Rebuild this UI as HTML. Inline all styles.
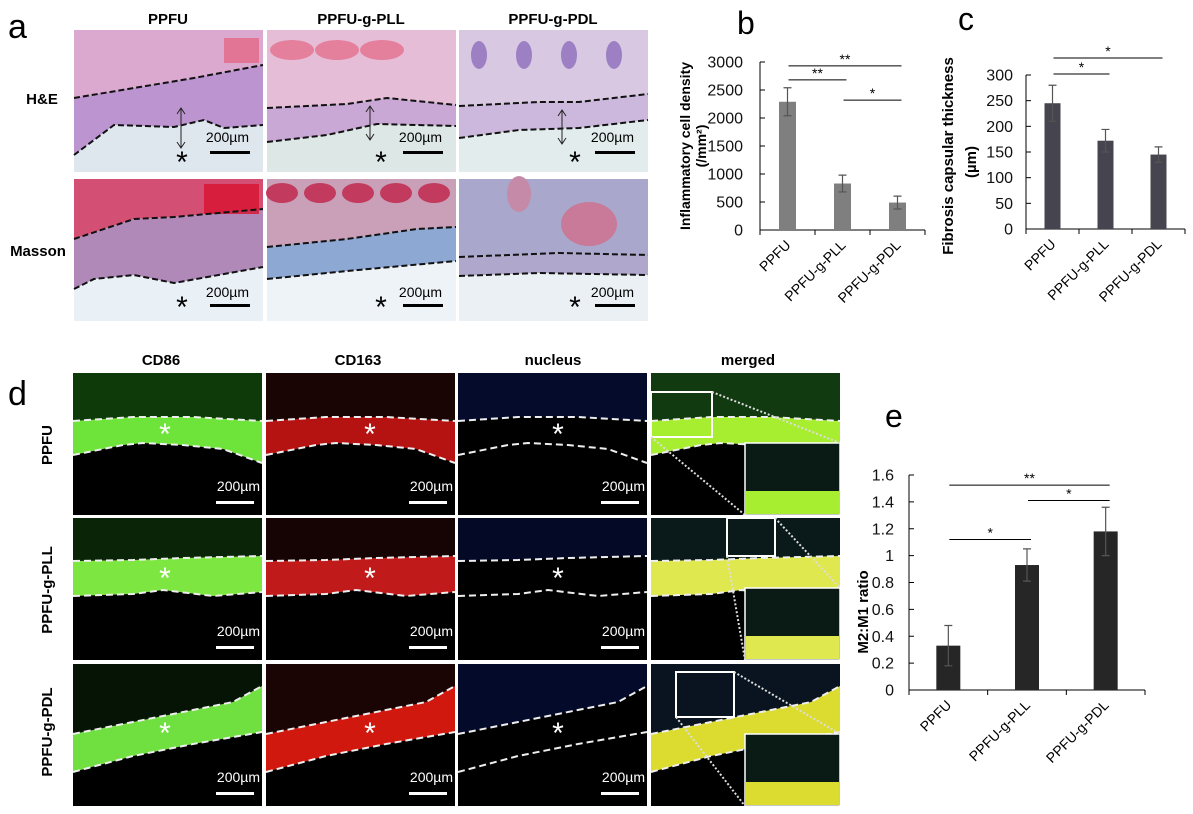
<!DOCTYPE html>
<html><head><meta charset="utf-8">
<style>
html,body{margin:0;padding:0;background:#fff;}
body{width:1193px;height:809px;overflow:hidden;font-family:"Liberation Sans",sans-serif;}
svg text{font-family:"Liberation Sans",sans-serif;}
</style></head>
<body>
<svg id="fig" width="1193" height="809" viewBox="0 0 1193 809" xmlns="http://www.w3.org/2000/svg">
<!-- panel letters -->
<text x="8" y="38" font-size="34">a</text>
<text x="737" y="34" font-size="32">b</text>
<text x="958" y="30" font-size="32">c</text>
<text x="8" y="405" font-size="34">d</text>
<text x="885" y="427" font-size="32">e</text>
<!-- panel a headers -->
<g font-weight="bold" font-size="15" text-anchor="middle">
<text x="168" y="24">PPFU</text>
<text x="361" y="24">PPFU-g-PLL</text>
<text x="553" y="24">PPFU-g-PDL</text>
<text x="42" y="104">H&amp;E</text>
<text x="38" y="256">Masson</text>
</g>
<!-- panel d headers -->
<g font-weight="bold" font-size="15" text-anchor="middle">
<text x="161" y="365">CD86</text>
<text x="358" y="365">CD163</text>
<text x="553" y="365">nucleus</text>
<text x="748" y="365">merged</text>
<text transform="translate(52,445) rotate(-90)">PPFU</text>
<text transform="translate(52,590) rotate(-90)">PPFU-g-PLL</text>
<text transform="translate(52,732) rotate(-90)">PPFU-g-PDL</text>
</g>
<g id="histo"></g>
<g id="fluo"></g>
<g id="chartB"></g>
<g id="chartC"></g>
<g id="chartE"></g>
</svg>
<script>
// ---- chart data ----
const cats = ["PPFU","PPFU-g-PLL","PPFU-g-PDL"];
const bVals = [2290, 830, 490];
const bErr = [250, 150, 115];
const bTicks = [0,500,1000,1500,2000,2500,3000];
const bSigFrom = [0, 0, 1];
const bSigTo = [2, 1, 2];
const bSigY = [2930, 2680, 2320];
const bSigLabel = ["**","**","*"];
const cVals = [245, 172, 145];
const cErr = [35, 22, 15];
const cTicks = [0,50,100,150,200,250,300];
const cSigFrom = [0, 0];
const cSigTo = [2, 1];
const cSigY = [333, 302];
const cSigLabel = ["*","*"];
const eVals = [0.33, 0.93, 1.18];
const eErr = [0.15, 0.12, 0.18];
const eTicks = [0,0.2,0.4,0.6,0.8,1,1.2,1.4,1.6];
const eSigFrom = [0, 1, 0];
const eSigTo = [2, 2, 1];
const eSigY = [1.525, 1.41, 1.12];
const eSigLabel = ["**","*","*"];

const NS = "http://www.w3.org/2000/svg";
function mk(tag, attrs, parent){
  const el = document.createElementNS(NS, tag);
  for (const k in attrs) el.setAttribute(k, attrs[k]);
  parent.appendChild(el);
  return el;
}

function drawChart(g, o){
  const n = cats.length;
  const step = (o.x1 - o.x0)/n;
  const xc = i => o.x0 + step*(i+0.5);
  const ys = v => o.y0 - (v/o.max)*(o.y0 - o.yTop);
  const ya = mk("line",{x1:o.x0,y1:ys(o.max),x2:o.x0,y2:o.y0,stroke:"#000","stroke-width":1},g);
  
  
  const xa = mk("line",{x1:o.x0,y1:o.y0,x2:o.x1,y2:o.y0,stroke:"#000","stroke-width":1},g);
  
  
  for (let i=0;i<=n;i++){
    const tx = mk("line",{x1:o.x0+step*i,y1:o.y0,x2:o.x0+step*i,y2:o.y0+5,stroke:"#000"},g);
    
    
  }
  o.ticks.forEach(t=>{
    const tl = mk("line",{x1:o.x0,y1:ys(t),x2:o.x0+5,y2:ys(t),stroke:"#000"},g);
    
    
    const tt = mk("text",{x:o.x0-o.gap,y:ys(t)+5.5,"text-anchor":"end","font-size":o.fs,fill:"#111"},g);
    tt.textContent = String(t);
    
    
  });
  o.vals.forEach((v,i)=>{
    const b = mk("rect",{x:xc(i)-o.bw/2,y:ys(v),width:o.bw,height:o.y0-ys(v),fill:o.color},g);
    
    
    const e = o.err[i];
    const eg = mk("path",{d:`M${xc(i)},${ys(v+e)}V${ys(v-e)}M${xc(i)-4},${ys(v+e)}h8M${xc(i)-4},${ys(v-e)}h8`,stroke:"#555",fill:"none","stroke-width":1.2},g);
    
    
    const lx = xc(i)+4, ly = o.y0+16;
    const lab = mk("text",{x:lx,y:ly,"text-anchor":"end","font-size":14,transform:`rotate(-45 ${lx} ${ly})`},g);
    lab.textContent = cats[i];
    
    
  });
  o.sigFrom.forEach((f,k)=>{
    const xa2 = xc(f)+1, xb = xc(o.sigTo[k])+4, y = ys(o.sigY[k]);
    const l = mk("line",{x1:xa2,y1:y,x2:xb,y2:y,stroke:"#000","stroke-width":1},g);
    
    
    const t = mk("text",{x:(xa2+xb)/2,y:y-2,"text-anchor":"middle","font-size":14},g);
    t.textContent = o.sigLabel[k];
    
    
  });
}

drawChart(document.getElementById("chartB"),{x0:760,x1:925,y0:230,yTop:62,max:3000,ticks:bTicks,vals:bVals,err:bErr,bw:17,color:"#7f7f7f",fs:16,gap:17,sigFrom:bSigFrom,sigTo:bSigTo,sigY:bSigY,sigLabel:bSigLabel});
drawChart(document.getElementById("chartC"),{x0:1026,x1:1185,y0:229,yTop:75,max:300,ticks:cTicks,vals:cVals,err:cErr,bw:16,color:"#45444f",fs:16,gap:13,sigFrom:cSigFrom,sigTo:cSigTo,sigY:cSigY,sigLabel:cSigLabel});
drawChart(document.getElementById("chartE"),{x0:909,x1:1145,y0:690,yTop:475,max:1.6,ticks:eTicks,vals:eVals,err:eErr,bw:24,color:"#262626",fs:16,gap:15,sigFrom:eSigFrom,sigTo:eSigTo,sigY:eSigY,sigLabel:eSigLabel});

(function(){
  const svg = document.getElementById("fig");
  const t1 = mk("text",{transform:"translate(690,146) rotate(-90)","text-anchor":"middle","font-size":14,"font-weight":"bold"},svg);
  t1.textContent = "Inflammatory cell density";
  
  
  const t2 = mk("text",{transform:"translate(706,146) rotate(-90)","text-anchor":"middle","font-size":14,"font-weight":"bold"},svg);
  t2.textContent = "(/mm²)";
  
  
  const t3 = mk("text",{transform:"translate(953,156) rotate(-90)","text-anchor":"middle","font-size":15,"font-weight":"bold"},svg);
  t3.textContent = "Fibrosis capsular thickness";
  
  
  const t4 = mk("text",{transform:"translate(976,162) rotate(-90)","text-anchor":"middle","font-size":15,"font-weight":"bold"},svg);
  t4.textContent = "(µm)";
  
  
  const t5 = mk("text",{transform:"translate(868,612) rotate(-90)","text-anchor":"middle","font-size":15,"font-weight":"bold"},svg);
  t5.textContent = "M2:M1 ratio";
  
  
})();

function pathPts(pts,ox,oy){return pts.map((p,i)=>(i?"L":"M")+(ox+p[0])+","+(oy+p[1])).join("");}
const histo = document.getElementById("histo");
const aCols=[74,267,459], aRows=[30,179], aW=189, aH=142;
const aCfg=[
 [{top:"#dba8cf",band:"#bc94d0",bot:"#dfe7ee",t:[[0,68],[60,58],[120,48],[189,35]],b:[[0,125],[40,95],[100,97],[130,90],[150,98],[189,95]]},
  {top:"#e6bdd6",band:"#c9a8d6",bot:"#dde8e6",t:[[0,78],[80,74],[120,68],[189,75]],b:[[0,112],[60,105],[110,94],[189,96]]},
  {top:"#d9c8e2",band:"#cbb8dc",bot:"#e2ecec",t:[[0,76],[80,72],[120,72],[189,64]],b:[[0,108],[60,100],[120,98],[189,90]]}],
 [{top:"#d34f74",band:"#b089b8",bot:"#eaf1f6",t:[[0,60],[60,40],[100,38],[189,30]],b:[[0,110],[20,100],[60,96],[100,104],[189,88]]},
  {top:"#c9a0b8",band:"#8ea8d4",bot:"#eef3f8",t:[[0,68],[80,60],[150,50],[189,48]],b:[[0,100],[80,92],[189,82]]},
  {top:"#a9a8cc",band:"#b0a8cc",bot:"#eaf0f4",t:[[0,78],[100,74],[189,76]],b:[[0,97],[80,94],[189,96]]}]
];
aRows.forEach((ry,r)=>aCols.forEach((cx,c)=>{
  const k=aCfg[r][c];
  const g=mk("g",{},histo);
  
  
  mk("rect",{x:cx,y:ry,width:aW,height:aH,fill:k.bot},g);
  mk("path",{d:`M${cx},${ry}H${cx+aW}`+pathPts(k.t.slice().reverse(),cx,ry).replace(/^M/,"L")+"Z",fill:k.top},g);
  mk("path",{d:pathPts(k.t,cx,ry)+pathPts(k.b.slice().reverse(),cx,ry).replace(/^M/,"L")+"Z",fill:k.band},g);
  if(r===0&&c===0) mk("rect",{x:cx+150,y:ry+8,width:35,height:25,fill:"#e5607e",opacity:0.7},g);
  if(r===1&&c===0) mk("rect",{x:cx+130,y:ry+5,width:55,height:30,fill:"#d8122e",opacity:0.8},g);
  if(r===1&&c===1){for(let i=0;i<5;i++) mk("ellipse",{cx:cx+15+i*38,cy:ry+14,rx:16,ry:10,fill:"#c23a5e"},g);}
  if(r===1&&c===2){mk("ellipse",{cx:cx+130,cy:ry+45,rx:28,ry:22,fill:"#c87a98"},g);mk("ellipse",{cx:cx+60,cy:ry+15,rx:12,ry:18,fill:"#c48aa8"},g);}
  if(r===0&&c===1){for(let i=0;i<3;i++) mk("ellipse",{cx:cx+25+i*45,cy:ry+20,rx:22,ry:10,fill:"#e47f9c"},g);}
  if(r===0&&c===2){for(let i=0;i<4;i++) mk("ellipse",{cx:cx+20+i*45,cy:ry+25,rx:8,ry:14,fill:"#9d7fc4"},g);}
  mk("path",{d:pathPts(k.t,cx,ry),fill:"none",stroke:"#111","stroke-width":2,"stroke-dasharray":"6,3"},g);
  mk("path",{d:pathPts(k.b,cx,ry),fill:"none",stroke:"#111","stroke-width":2,"stroke-dasharray":"6,3"},g);
  if(r===0){
    const ax=cx+ (c===0?107:103);
    const ya=k.t[1][1]+ry+ (c===0?20:c===1?2:8), yb=ya+ (c===0?40:34);
    mk("path",{d:`M${ax},${ya}V${yb}M${ax-4},${ya+6}L${ax},${ya}L${ax+4},${ya+6}M${ax-4},${yb-6}L${ax},${yb}L${ax+4},${yb-6}`,stroke:"#222",fill:"none"},g);
  }
  const st=mk("text",{x:cx+aW-14,y:ry+aH-(r?24:30),"text-anchor":"end","font-size":14},g);
  st.textContent="200µm";
  
  
  mk("rect",{x:cx+aW-53,y:ry+aH-(r?17:21),width:40,height:3,fill:"#000"},g);
  const as=mk("text",{x:cx+(c===0?108:c===1?114:116),y:ry+aH-(r?4:0),"text-anchor":"middle","font-size":30},g);
  as.textContent="*";
  
  
}));

const fluo=document.getElementById("fluo");
const dCols=[73,266,458,651], dRows=[373,518,664], dW=189, dH=142;
const bandColorsRow=[["#6ee43a","#b51212","#000","#a8ee30"],["#7ee640","#c01a1a","#000","#e0e850"],["#6fe040","#d0180e","#000","#dcdc30"]];
const topTint=[["#0e3a0a","#1a0505","#050b2a","#123a10"],["#0a2408","#160404","#040a26","#0a1a1a"],["#061406","#1a0404","#040a2a","#0a1420"]];
const dBands=[
 {t:[[0,48],[60,44],[120,44],[189,48]],b:[[0,82],[50,72],[70,70],[110,72],[150,76],[189,90]]},
 {t:[[0,43],[60,42],[110,40],[189,38]],b:[[0,78],[60,76],[90,72],[140,78],[189,74]]},
 {t:[[0,70],[60,58],[100,50],[160,38],[189,22]],b:[[0,108],[60,92],[120,80],[189,68]]}
];
dRows.forEach((ry,r)=>dCols.forEach((cx,c)=>{
  const k=dBands[r];
  const g=mk("g",{},fluo);
  
  
  mk("rect",{x:cx,y:ry,width:dW,height:dH,fill:"#000"},g);
  mk("path",{d:`M${cx},${ry}H${cx+dW}`+pathPts(k.t.slice().reverse(),cx,ry).replace(/^M/,"L")+"Z",fill:topTint[r][c]},g);
  if(c!==2){
    mk("path",{d:pathPts(k.t,cx,ry)+pathPts(k.b.slice().reverse(),cx,ry).replace(/^M/,"L")+"Z",fill:bandColorsRow[r][c]},g);
  }
  mk("path",{d:pathPts(k.t,cx,ry),fill:"none",stroke:"#eee","stroke-width":2,"stroke-dasharray":"7,4"},g);
  mk("path",{d:pathPts(k.b,cx,ry),fill:"none",stroke:"#eee","stroke-width":2,"stroke-dasharray":"7,4"},g);
  if(c<3){
    const as=mk("text",{x:cx+(c===0?92:c===1?104:100),y:ry+(k.t[2][1]+k.b[2][1])/2+14,"text-anchor":"middle","font-size":30,fill:"#fff"},g);
    as.textContent="*";
    
    
    const st=mk("text",{x:cx+dW-2,y:ry+dH-24,"text-anchor":"end","font-size":14,fill:"#fff"},g);
    st.textContent="200µm";
    
    
    mk("rect",{x:cx+dW-46,y:ry+dH-14,width:38,height:3,fill:"#fff"},g);
  } else {
    const bx=[0,76,25][r], by=[19,0,8][r], bw=[61,48,58][r], bh=[45,38,45][r];
    mk("rect",{x:cx+bx,y:ry+by,width:bw,height:bh,fill:"none",stroke:"#fff","stroke-width":2},g);
    mk("rect",{x:cx+94,y:ry+70,width:95,height:72,fill:"#0a1a14",stroke:"#fff","stroke-width":1.5},g);
    mk("rect",{x:cx+95,y:ry+118,width:93,height:23,fill:bandColorsRow[r][3]},g);
    mk("line",{x1:cx+bx+bw,y1:ry+by,x2:cx+dW,y2:ry+70,stroke:"#ddd","stroke-width":2,"stroke-dasharray":"2,2"},g);
    mk("line",{x1:cx+bx,y1:ry+by+bh,x2:cx+94,y2:ry+dH,stroke:"#ddd","stroke-width":2,"stroke-dasharray":"2,2"},g);
  }
}));
</script>
</body></html>
